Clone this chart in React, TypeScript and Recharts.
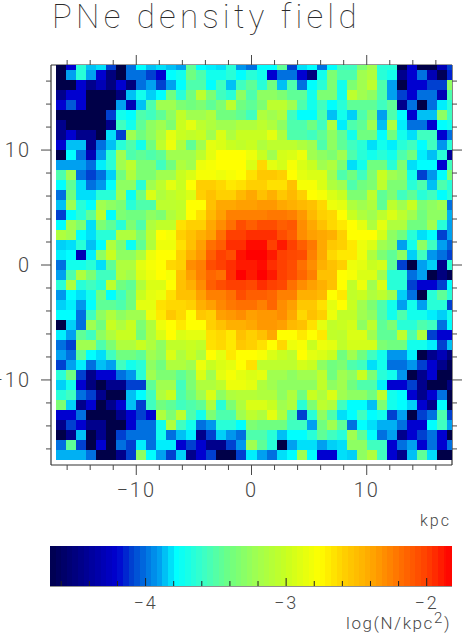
import React from "react";
import { ScatterChart, Scatter, XAxis, YAxis } from "recharts";

// log(N/kpc^2) per map cell, top row first, left column first
const ROW_00 = [-4.7,-4.2,-3.65,-3.86,-3.82,-4.1,-4.7,-4.0,-3.78,-3.86,-3.82,-3.86,-3.9,-3.46,-3.78,-3.8,-3.82,-3.65,-3.92,-4.0,-3.78,-3.78,-3.46,-4.1,-3.82,-3.78,-4.0,-3.78,-3.57,-3.57,-3.35,-3.21,-3.65,-3.65,-4.7,-4.2,-4.7,-4.7,-4.3,-4.1];
const ROW_01 = [-4.7,-3.9,-3.65,-3.9,-4.2,-4.5,-4.7,-4.0,-4.0,-4.1,-4.2,-3.78,-3.72,-3.4,-3.52,-3.72,-3.72,-3.65,-3.78,-3.65,-3.72,-4.2,-4.0,-4.0,-4.2,-4.5,-3.72,-3.35,-3.52,-3.52,-3.21,-3.13,-3.65,-3.72,-4.45,-4.2,-4.0,-4.3,-4.65,-4.15];
const ROW_02 = [-4.7,-4.7,-4.2,-4.45,-4.3,-4.5,-4.2,-4.5,-4.0,-3.9,-4.1,-3.9,-3.78,-3.52,-3.52,-3.78,-3.57,-3.86,-3.57,-3.46,-3.65,-3.4,-3.86,-3.52,-4.0,-3.78,-3.65,-3.35,-3.72,-3.35,-3.21,-3.06,-3.52,-3.9,-4.7,-4.2,-4.2,-4.1,-4.1,-3.28];
const ROW_03 = [-4.45,-4.2,-4.2,-4.7,-4.7,-4.7,-4.5,-3.86,-3.72,-3.84,-3.78,-3.4,-3.65,-3.4,-3.06,-3.35,-3.57,-3.65,-3.28,-3.52,-3.28,-3.28,-3.35,-3.46,-3.46,-3.72,-3.35,-3.35,-3.72,-3.06,-3.21,-3.28,-3.52,-3.9,-4.1,-4.2,-4.0,-4.0,-4.3,-3.52];
const ROW_04 = [-4.2,-4.05,-4.2,-4.7,-4.7,-4.7,-3.9,-4.3,-3.86,-3.52,-3.21,-3.21,-3.35,-3.4,-3.35,-3.46,-3.35,-3.06,-3.4,-3.46,-3.35,-3.06,-3.06,-3.21,-3.52,-3.72,-3.57,-3.78,-3.65,-3.46,-3.46,-3.46,-3.57,-3.46,-4.45,-4.0,-4.7,-4.0,-3.8,-3.65];
const ROW_05 = [-4.7,-4.7,-4.7,-4.7,-4.7,-4.1,-3.72,-3.78,-3.52,-3.57,-3.46,-3.28,-3.04,-3.21,-3.21,-3.13,-3.4,-3.4,-3.46,-3.57,-3.13,-3.21,-3.13,-3.57,-3.78,-3.78,-3.52,-3.86,-3.72,-3.84,-3.52,-3.35,-3.9,-3.52,-3.78,-4.2,-3.86,-3.86,-3.28,-3.57];
const ROW_06 = [-4.45,-4.7,-4.7,-4.7,-4.7,-4.45,-3.57,-3.72,-3.46,-3.28,-3.21,-3.35,-3.0,-2.88,-3.06,-3.13,-3.21,-3.21,-3.13,-3.13,-3.06,-3.13,-3.28,-3.52,-3.52,-3.4,-3.57,-3.13,-3.8,-3.52,-3.46,-3.21,-3.86,-3.13,-3.8,-4.0,-4.0,-4.2,-3.78,-3.72];
const ROW_07 = [-4.45,-4.2,-4.45,-4.45,-4.7,-3.82,-4.1,-3.21,-3.4,-3.28,-3.13,-2.88,-3.0,-3.04,-3.0,-3.21,-2.92,-3.13,-3.0,-3.0,-3.0,-2.88,-3.13,-3.52,-3.52,-3.57,-3.46,-3.28,-3.46,-3.72,-3.4,-3.4,-3.78,-3.4,-3.72,-3.82,-3.57,-3.57,-4.2,-4.0];
const ROW_08 = [-4.2,-3.86,-3.86,-4.45,-4.0,-3.86,-3.65,-3.52,-3.72,-3.4,-3.06,-2.84,-3.13,-3.46,-3.21,-2.88,-2.92,-3.0,-3.04,-3.0,-3.13,-3.06,-3.06,-3.06,-3.13,-3.21,-3.52,-3.28,-3.46,-3.57,-3.65,-3.82,-3.72,-3.8,-3.65,-3.57,-3.78,-3.57,-3.92,-3.65];
const ROW_09 = [-4.7,-3.78,-4.0,-4.3,-3.92,-3.65,-3.21,-3.52,-3.46,-3.52,-3.46,-3.21,-3.21,-3.21,-3.06,-2.88,-2.76,-2.76,-2.76,-2.84,-3.0,-3.21,-2.95,-2.92,-2.84,-3.21,-3.28,-3.35,-3.21,-3.52,-3.65,-3.72,-3.65,-3.72,-3.52,-3.4,-3.8,-3.86,-3.65,-4.4];
const ROW_10 = [-3.9,-3.9,-3.9,-4.0,-3.8,-3.65,-3.21,-3.06,-3.35,-3.35,-3.57,-3.4,-3.13,-3.21,-2.84,-2.8,-2.76,-2.76,-2.76,-2.92,-2.62,-2.88,-2.95,-2.8,-2.92,-3.0,-3.21,-3.13,-3.35,-3.82,-3.72,-3.4,-3.4,-3.65,-3.35,-3.82,-3.78,-3.78,-4.2,-3.57];
const ROW_11 = [-3.52,-3.21,-4.0,-4.1,-4.0,-3.84,-3.4,-3.13,-3.35,-3.35,-3.21,-3.21,-3.0,-2.92,-2.8,-2.8,-2.84,-2.8,-2.76,-2.65,-2.55,-2.55,-2.59,-2.76,-2.88,-2.92,-2.92,-3.21,-3.52,-3.4,-3.57,-3.35,-3.0,-3.21,-3.28,-3.72,-4.1,-3.92,-3.78,-3.35];
const ROW_12 = [-3.78,-3.46,-3.82,-4.0,-3.92,-3.78,-3.28,-3.28,-3.65,-3.21,-3.06,-2.88,-3.0,-2.76,-2.58,-2.58,-2.62,-2.68,-2.65,-2.59,-2.59,-2.65,-2.65,-2.52,-2.8,-2.8,-2.92,-3.13,-3.21,-3.52,-3.4,-3.35,-3.06,-3.35,-3.35,-3.65,-3.52,-3.86,-3.52,-3.65];
const ROW_13 = [-4.0,-3.4,-3.82,-3.82,-3.65,-3.65,-3.21,-3.75,-3.4,-2.92,-3.13,-3.06,-3.0,-2.92,-2.59,-2.52,-2.59,-2.59,-2.48,-2.4,-2.52,-2.44,-2.55,-2.48,-2.59,-2.76,-2.8,-2.92,-3.0,-3.35,-3.35,-3.06,-3.46,-3.35,-3.57,-3.46,-3.65,-3.57,-3.78,-3.65];
const ROW_14 = [-3.86,-3.21,-3.65,-3.78,-3.21,-3.28,-3.35,-3.65,-3.52,-3.52,-3.06,-3.06,-3.04,-2.76,-2.76,-2.52,-2.4,-2.4,-2.37,-2.37,-2.34,-2.34,-2.4,-2.44,-2.48,-2.52,-2.62,-2.84,-2.88,-3.13,-3.21,-3.13,-3.46,-3.06,-3.21,-3.0,-3.35,-3.28,-3.21,-4.0];
const ROW_15 = [-4.1,-3.78,-3.65,-3.46,-3.06,-3.78,-3.35,-3.4,-3.4,-3.28,-3.35,-3.13,-3.04,-2.76,-2.65,-2.48,-2.37,-2.25,-2.25,-2.25,-2.25,-2.22,-2.22,-2.25,-2.34,-2.48,-2.59,-2.62,-2.76,-3.0,-3.13,-3.21,-3.06,-2.92,-3.06,-3.21,-3.4,-3.28,-3.28,-3.88];
const ROW_16 = [-3.78,-3.21,-3.35,-3.82,-3.35,-3.46,-3.65,-3.35,-3.52,-3.13,-3.04,-3.04,-2.65,-2.59,-2.59,-2.4,-2.3,-2.19,-2.05,-2.12,-2.05,-2.05,-2.12,-2.09,-2.3,-2.4,-2.52,-2.62,-2.68,-2.76,-2.88,-3.13,-2.88,-3.13,-3.13,-3.4,-3.4,-3.21,-3.65,-3.9];
const ROW_17 = [-3.13,-3.21,-3.78,-3.82,-3.65,-3.65,-3.13,-3.13,-3.35,-3.06,-2.76,-2.8,-2.59,-2.52,-2.44,-2.37,-2.19,-2.0,-2.0,-1.95,-1.95,-1.95,-2.05,-2.12,-2.3,-2.37,-2.4,-2.44,-2.59,-2.76,-2.76,-2.76,-2.95,-3.28,-3.4,-3.65,-3.82,-3.78,-4.1,-3.9];
const ROW_18 = [-3.84,-3.82,-3.65,-3.86,-3.78,-3.13,-3.35,-3.75,-3.46,-3.13,-2.84,-2.84,-2.65,-2.52,-2.37,-2.19,-2.12,-1.95,-1.95,-1.85,-1.85,-2.0,-1.89,-2.0,-2.12,-2.22,-2.4,-2.55,-2.59,-2.68,-2.84,-2.92,-3.21,-3.28,-3.9,-3.72,-3.28,-3.57,-3.9,-4.03];
const ROW_19 = [-3.8,-3.78,-4.3,-3.8,-3.28,-3.0,-3.28,-3.28,-3.13,-2.84,-2.76,-2.76,-2.59,-2.44,-2.34,-2.12,-2.0,-2.05,-1.87,-1.82,-1.82,-1.89,-2.0,-2.03,-2.05,-2.25,-2.4,-2.62,-2.68,-2.68,-2.84,-3.13,-3.35,-3.46,-3.28,-3.84,-3.57,-3.92,-4.0,-4.1];
const ROW_20 = [-4.0,-3.72,-3.72,-3.65,-3.82,-3.46,-3.13,-3.13,-2.88,-2.8,-2.76,-2.62,-2.59,-2.3,-2.25,-2.05,-2.0,-1.95,-1.89,-1.89,-1.85,-1.95,-2.0,-2.05,-2.19,-2.3,-2.44,-2.52,-2.59,-2.84,-2.88,-3.0,-2.95,-3.46,-4.1,-4.7,-3.9,-3.84,-4.45,-3.65];
const ROW_21 = [-3.9,-3.52,-3.13,-3.35,-3.57,-3.57,-3.13,-3.21,-2.92,-2.84,-2.76,-2.8,-2.52,-2.37,-2.25,-2.15,-2.19,-1.95,-1.82,-1.89,-1.82,-1.89,-2.0,-2.05,-2.15,-2.25,-2.52,-2.52,-2.76,-2.8,-2.92,-2.92,-3.21,-3.65,-3.65,-4.0,-3.9,-4.7,-4.5,-4.65];
const ROW_22 = [-3.65,-3.13,-3.65,-3.57,-3.65,-3.06,-3.4,-3.46,-3.13,-2.92,-2.92,-2.76,-2.52,-2.44,-2.3,-2.12,-2.05,-2.0,-2.0,-2.03,-1.95,-2.0,-2.03,-2.19,-2.3,-2.37,-2.44,-2.52,-2.76,-3.04,-2.84,-3.21,-2.92,-3.65,-3.65,-4.1,-4.2,-4.2,-4.1,-3.78];
const ROW_23 = [-3.92,-3.78,-3.82,-3.72,-3.4,-3.78,-3.57,-3.4,-3.0,-2.88,-2.84,-2.65,-2.52,-2.52,-2.37,-2.25,-2.25,-2.19,-2.05,-2.12,-2.12,-2.15,-2.25,-2.25,-2.44,-2.44,-2.48,-2.76,-2.68,-3.04,-3.0,-3.13,-3.06,-3.21,-3.84,-4.0,-4.7,-3.65,-3.46,-3.65];
const ROW_24 = [-3.84,-3.8,-3.92,-3.78,-3.46,-3.46,-3.52,-3.4,-2.88,-2.88,-2.65,-2.62,-2.62,-2.59,-2.44,-2.37,-2.28,-2.22,-2.19,-2.19,-2.25,-2.15,-2.3,-2.37,-2.55,-2.55,-2.65,-2.88,-2.76,-3.0,-3.21,-3.35,-3.52,-3.72,-3.9,-3.72,-3.9,-3.65,-3.65,-4.1];
const ROW_25 = [-3.78,-3.78,-4.0,-3.57,-3.28,-3.13,-3.28,-3.21,-3.21,-2.84,-2.68,-2.55,-2.62,-2.76,-2.55,-2.59,-2.37,-2.34,-2.3,-2.37,-2.34,-2.34,-2.3,-2.4,-2.62,-2.52,-2.59,-2.84,-3.04,-3.04,-3.21,-3.28,-3.52,-3.72,-3.52,-3.72,-3.72,-3.8,-3.84,-3.72];
const ROW_26 = [-4.7,-3.84,-4.0,-3.21,-3.4,-3.0,-3.13,-3.0,-3.35,-3.13,-2.84,-2.76,-2.68,-2.76,-2.76,-2.59,-2.52,-2.44,-2.44,-2.4,-2.34,-2.34,-2.37,-2.48,-2.52,-2.65,-2.88,-3.04,-3.0,-2.95,-3.28,-3.06,-3.46,-3.35,-3.65,-3.65,-3.52,-3.57,-4.0,-3.78];
const ROW_27 = [-3.8,-3.9,-3.46,-3.57,-3.28,-3.13,-3.0,-3.0,-3.4,-3.13,-2.92,-2.76,-2.92,-2.88,-2.88,-2.65,-2.62,-2.68,-2.52,-2.59,-2.52,-2.4,-2.76,-2.76,-2.68,-2.76,-2.68,-3.04,-3.06,-2.92,-2.92,-3.21,-3.46,-3.46,-3.06,-3.52,-3.13,-4.1,-4.2,-4.2];
const ROW_28 = [-4.0,-4.1,-3.21,-3.21,-3.52,-3.35,-3.13,-3.13,-3.0,-3.13,-3.28,-3.04,-3.04,-3.0,-3.04,-2.65,-2.62,-2.68,-2.55,-2.59,-2.65,-2.76,-2.62,-2.84,-2.8,-3.0,-2.84,-2.88,-3.04,-2.95,-2.95,-2.95,-3.35,-3.4,-3.4,-3.72,-3.72,-3.8,-4.1,-3.86];
const ROW_29 = [-3.9,-4.0,-3.46,-3.78,-3.82,-3.57,-3.4,-3.4,-3.46,-3.21,-3.28,-2.92,-3.13,-3.0,-3.13,-2.76,-2.88,-2.68,-2.76,-2.76,-2.8,-2.92,-3.0,-3.06,-2.76,-2.88,-2.92,-3.0,-3.4,-3.21,-3.4,-3.57,-3.72,-3.92,-3.92,-3.8,-4.7,-4.45,-4.3,-4.5];
const ROW_30 = [-4.1,-3.9,-3.8,-4.0,-3.86,-3.9,-3.57,-3.72,-3.65,-3.28,-3.4,-3.13,-3.13,-3.21,-2.84,-3.0,-2.92,-2.88,-2.76,-2.65,-3.06,-3.06,-3.06,-3.06,-2.95,-3.0,-3.28,-3.4,-3.35,-3.52,-3.57,-3.82,-3.72,-4.0,-4.0,-3.92,-4.1,-4.2,-4.45,-4.65];
const ROW_31 = [-3.65,-3.4,-4.1,-4.45,-4.2,-4.2,-4.0,-3.92,-3.65,-3.21,-3.35,-3.35,-3.46,-3.35,-2.92,-3.21,-2.88,-2.8,-2.88,-2.92,-2.88,-3.21,-3.21,-3.28,-3.21,-3.21,-3.06,-3.4,-3.21,-3.28,-3.0,-3.35,-3.65,-3.72,-3.92,-4.7,-4.45,-4.2,-4.7,-4.7];
const ROW_32 = [-3.84,-3.72,-4.2,-4.5,-4.7,-4.45,-4.45,-4.1,-4.1,-3.46,-3.21,-3.21,-3.57,-3.35,-3.13,-3.13,-3.06,-2.84,-2.84,-2.88,-3.13,-3.21,-3.28,-3.28,-3.28,-3.28,-3.04,-3.28,-3.21,-3.4,-3.52,-3.52,-3.8,-4.2,-4.2,-4.1,-4.45,-4.7,-4.7,-4.5];
const ROW_33 = [-3.65,-3.57,-4.0,-4.1,-4.45,-4.7,-4.7,-3.86,-3.78,-3.57,-3.13,-3.0,-3.52,-3.4,-3.21,-2.92,-3.28,-3.13,-3.1,-3.1,-3.13,-3.13,-3.28,-3.13,-3.4,-3.0,-3.13,-2.92,-3.21,-3.28,-3.28,-3.4,-3.06,-3.72,-3.78,-4.2,-4.45,-4.2,-4.0,-4.7];
const ROW_34 = [-3.35,-3.84,-4.45,-4.2,-4.7,-4.45,-4.2,-3.86,-4.1,-3.57,-3.4,-3.46,-3.57,-3.52,-3.46,-3.13,-3.65,-3.35,-3.13,-2.92,-2.92,-3.0,-3.21,-3.13,-3.65,-3.35,-3.06,-3.13,-3.57,-3.78,-3.78,-3.86,-3.35,-3.72,-3.78,-3.84,-4.2,-4.45,-3.78,-4.7];
const ROW_35 = [-4.2,-4.2,-4.0,-4.7,-4.7,-4.7,-4.45,-4.2,-4.1,-4.2,-3.13,-3.35,-3.06,-3.52,-3.72,-3.35,-3.52,-3.52,-3.21,-3.06,-3.13,-2.88,-3.13,-3.52,-4.1,-3.65,-3.28,-3.52,-3.82,-3.78,-3.57,-3.78,-3.72,-4.1,-3.9,-4.7,-4.1,-4.0,-3.52,-4.1];
const ROW_36 = [-4.45,-4.1,-4.2,-4.45,-4.45,-4.7,-4.7,-4.2,-4.0,-4.0,-3.72,-3.13,-3.57,-3.72,-4.0,-3.92,-3.65,-3.65,-3.78,-3.35,-3.4,-3.4,-3.4,-3.57,-3.57,-3.9,-3.4,-3.21,-3.46,-4.0,-3.78,-3.82,-3.88,-3.88,-4.0,-4.2,-4.2,-3.78,-3.57,-3.9];
const ROW_37 = [-4.7,-4.45,-3.86,-4.7,-4.45,-4.7,-4.1,-4.0,-4.0,-4.0,-3.72,-4.0,-3.86,-3.8,-4.45,-4.1,-3.84,-3.92,-4.0,-3.52,-3.52,-3.65,-3.86,-3.78,-3.78,-3.65,-3.46,-3.57,-3.65,-3.21,-3.46,-3.78,-4.0,-3.9,-4.45,-4.2,-4.1,-4.0,-4.2,-4.7];
const ROW_38 = [-4.0,-3.46,-4.1,-4.7,-4.2,-4.7,-4.0,-4.1,-3.8,-4.0,-3.8,-3.8,-4.2,-4.1,-4.2,-4.45,-4.45,-4.1,-3.92,-3.21,-3.46,-3.65,-4.7,-3.9,-3.82,-3.82,-3.9,-3.84,-3.82,-3.28,-3.28,-3.57,-3.57,-4.2,-4.0,-3.9,-4.2,-4.0,-4.2,-4.0];
const ROW_39 = [-3.88,-3.88,-3.88,-4.0,-4.7,-4.7,-4.45,-4.1,-3.28,-3.78,-3.9,-4.1,-3.84,-4.45,-4.2,-4.1,-4.7,-4.7,-4.1,-3.8,-3.9,-4.0,-3.82,-3.78,-3.21,-3.78,-4.2,-4.2,-3.82,-3.84,-3.28,-3.13,-3.57,-4.2,-4.45,-3.86,-3.46,-3.82,-4.7,-4.7];

const ROWS = [
  ROW_00, ROW_01, ROW_02, ROW_03, ROW_04, ROW_05, ROW_06, ROW_07, ROW_08, ROW_09,
  ROW_10, ROW_11, ROW_12, ROW_13, ROW_14, ROW_15, ROW_16, ROW_17, ROW_18, ROW_19,
  ROW_20, ROW_21, ROW_22, ROW_23, ROW_24, ROW_25, ROW_26, ROW_27, ROW_28, ROW_29,
  ROW_30, ROW_31, ROW_32, ROW_33, ROW_34, ROW_35, ROW_36, ROW_37, ROW_38, ROW_39,
];

const MAP_TICKS = [-16, -14, -12, -10, -8, -6, -4, -2, 0, 2, 4, 6, 8, 10, 12, 14, 16];
const MAP_LABELS = [-10, 0, 10];
const BAR_TICKS = [-4.6, -4.4, -4.2, -4, -3.8, -3.6, -3.4, -3.2, -3, -2.8, -2.6, -2.4, -2.2, -2];
const BAR_LABELS = [-4, -3, -2];
const BAR_LEVELS = [
  -4.66, -4.62, -4.58, -4.54, -4.5, -4.46, -4.42, -4.38, -4.34, -4.3, -4.26, -4.22, -4.18, -4.14, -4.1, -4.06,
  -4.02, -3.98, -3.94, -3.9, -3.86, -3.82, -3.78, -3.74, -3.7, -3.66, -3.62, -3.58, -3.54, -3.5, -3.46, -3.42,
  -3.38, -3.34, -3.3, -3.26, -3.22, -3.18, -3.14, -3.1, -3.06, -3.02, -2.98, -2.94, -2.9, -2.86, -2.82, -2.78,
  -2.74, -2.7, -2.66, -2.62, -2.58, -2.54, -2.5, -2.46, -2.42, -2.38, -2.34, -2.3, -2.26, -2.22, -2.18, -2.14,
  -2.1, -2.06, -2.02, -1.98, -1.94, -1.9, -1.86, -1.84,
];

const STOP_VALUES = [-4.7, -4.2, -4.1, -4.0, -3.9, -3.78, -3.57, -3.4, -3.21, -3.0, -2.76, -2.59, -2.4, -2.19, -2.0, -1.82];
const STOP_COLORS = ["#000048", "#0000d0", "#0040d0", "#0070e0", "#00a0f0", "#00ffff", "#40ffc0", "#70ff80", "#a0ff50", "#c8ff20", "#ffff00", "#ffd000", "#ffa800", "#ff7000", "#ff4000", "#ff0000"];

const EXTENT = 17.4; // kpc, half width of the frame
const CELL = 0.87; // kpc
const PX_X = 401 / (2 * EXTENT);
const PX_Y = 400 / (2 * EXTENT);
const BAR_MIN = -4.68;
const BAR_MAX = -1.82;
const BAR_STEP = 0.04;
const PX_BAR = 402 / (BAR_MAX - BAR_MIN);

const INK = "#484848";
const FONT = "Roboto, sans-serif";

function hexToRgb(hex: string) {
  return [1, 3, 5].map((i) => parseInt(hex.slice(i, i + 2), 16));
}

function valueColor(v: number): string {
  if (v <= STOP_VALUES[0]) return STOP_COLORS[0];
  for (let i = 1; i < STOP_VALUES.length; i++) {
    if (v <= STOP_VALUES[i]) {
      const t = (v - STOP_VALUES[i - 1]) / (STOP_VALUES[i] - STOP_VALUES[i - 1]);
      const a = hexToRgb(STOP_COLORS[i - 1]);
      const b = hexToRgb(STOP_COLORS[i]);
      const c = a.map((ch, k) => Math.round(ch + (b[k] - ch) * t));
      return `rgb(${c[0]},${c[1]},${c[2]})`;
    }
  }
  return STOP_COLORS[STOP_COLORS.length - 1];
}

// cells sit half a cell off the frame, so the top row and right column are cut in half
const cells = ROWS.flatMap((row, r) =>
  row.map((value, c) => {
    const x0 = -EXTENT + CELL * (c + 0.5);
    const x1 = Math.min(EXTENT, x0 + CELL);
    const y1 = Math.min(EXTENT, EXTENT - CELL * (r - 0.5));
    const y0 = EXTENT - CELL * (r + 0.5);
    return { x: (x0 + x1) / 2, y: (y0 + y1) / 2, w: x1 - x0, h: y1 - y0, value };
  })
);

const barCells = BAR_LEVELS.map((value) => ({ x: value, y: 0.5, value }));

function CellShape(props: any) {
  const { cx, cy, payload } = props;
  const w = payload.w * PX_X;
  const h = payload.h * PX_Y;
  return (
    <rect
      x={cx - w / 2}
      y={cy - h / 2}
      width={w}
      height={h}
      fill={valueColor(payload.value)}
      shapeRendering="crispEdges"
    />
  );
}

function BarCellShape(props: any) {
  const { cx, payload } = props;
  const w = BAR_STEP * PX_BAR;
  return (
    <rect
      x={cx - w / 2}
      y={16}
      width={w + 0.5}
      height={40}
      fill={valueColor(payload.value)}
      shapeRendering="crispEdges"
    />
  );
}

const minus = (v: number) => (v < 0 ? `\u2212${-v}` : `${v}`);

function tickLen(v: number, labels: number[], minor: number, major: number) {
  return labels.includes(v) ? major : minor;
}

function TickText({ x, y, size, anchor, children }: any) {
  return (
    <text x={x} y={y} textAnchor={anchor} fontSize={size} letterSpacing={2} fontWeight={300} fontFamily={FONT} fill={INK}>
      {children}
    </text>
  );
}

function BottomTick({ x, y, payload }: any) {
  const v = payload.value;
  return (
    <g>
      <line x1={x} x2={x} y1={y} y2={y + tickLen(v, MAP_LABELS, 5, 10)} stroke={INK} />
      {MAP_LABELS.includes(v) && (
        <TickText x={x} y={y + 32} size={20} anchor="middle">{minus(v)}</TickText>
      )}
    </g>
  );
}

function TopTick({ x, y, payload }: any) {
  return <line x1={x} x2={x} y1={y} y2={y - tickLen(payload.value, MAP_LABELS, 5, 10)} stroke={INK} />;
}

function LeftTick({ x, y, payload }: any) {
  const v = payload.value;
  return (
    <g>
      <line x1={x} x2={x - tickLen(v, MAP_LABELS, 5, 10)} y1={y} y2={y} stroke={INK} />
      {MAP_LABELS.includes(v) && (
        <TickText x={x - 20} y={y + 7} size={20} anchor="end">{minus(v)}</TickText>
      )}
    </g>
  );
}

function RightTick({ x, y, payload }: any) {
  return <line x1={x} x2={x + tickLen(payload.value, MAP_LABELS, 5, 10)} y1={y} y2={y} stroke={INK} />;
}

function BarBottomTick({ x, y, payload }: any) {
  const v = payload.value;
  const major = BAR_LABELS.includes(v);
  return (
    <g>
      <line x1={x} x2={x} y1={y} y2={y - (major ? 8 : 5)} stroke="#222" />
      {major && (
        <TickText x={x} y={y + 23} size={18} anchor="middle">{minus(v)}</TickText>
      )}
    </g>
  );
}

function BarTopTick({ x, y, payload }: any) {
  const major = BAR_LABELS.includes(payload.value);
  return <line x1={x} x2={x} y1={y} y2={y + (major ? 8 : 5)} stroke="#222" />;
}

function HeatMap() {
  const axisLine = { stroke: "#333", strokeWidth: 1.2 };
  return (
    <ScatterChart width={463} height={510} margin={{ top: 50, right: 0, bottom: 0, left: 0 }}>
      <XAxis xAxisId="b" type="number" dataKey="x" orientation="bottom" height={45} domain={[-EXTENT, EXTENT]} ticks={MAP_TICKS} interval={0} allowDataOverflow tickSize={0} tickMargin={0} axisLine={axisLine} tick={<BottomTick />} />
      <XAxis xAxisId="t" type="number" dataKey="x" orientation="top" height={15} domain={[-EXTENT, EXTENT]} ticks={MAP_TICKS} interval={0} allowDataOverflow tickSize={0} tickMargin={0} axisLine={axisLine} tick={<TopTick />} />
      <YAxis yAxisId="l" type="number" dataKey="y" orientation="left" width={51} domain={[-EXTENT, EXTENT]} ticks={MAP_TICKS} interval={0} allowDataOverflow tickSize={0} tickMargin={0} axisLine={axisLine} tick={<LeftTick />} />
      <YAxis yAxisId="r" type="number" dataKey="y" orientation="right" width={11} domain={[-EXTENT, EXTENT]} ticks={MAP_TICKS} interval={0} allowDataOverflow tickSize={0} tickMargin={0} axisLine={axisLine} tick={<RightTick />} />
      <Scatter xAxisId="b" yAxisId="l" data={cells} shape={<CellShape />} isAnimationActive={false} />
    </ScatterChart>
  );
}

function ColorBar() {
  const axisLine = { stroke: "#222", strokeWidth: 1 };
  return (
    <ScatterChart width={463} height={100} margin={{ top: 16, right: 11, bottom: 0, left: 50 }}>
      <XAxis xAxisId="b" type="number" dataKey="x" orientation="bottom" height={44} domain={[BAR_MIN, BAR_MAX]} ticks={BAR_TICKS} interval={0} allowDataOverflow tickSize={0} tickMargin={0} axisLine={axisLine} tick={<BarBottomTick />} />
      <XAxis xAxisId="t" type="number" dataKey="x" orientation="top" height={0} domain={[BAR_MIN, BAR_MAX]} ticks={BAR_TICKS} interval={0} allowDataOverflow tickSize={0} tickMargin={0} axisLine={axisLine} tick={<BarTopTick />} />
      <YAxis yAxisId="l" type="number" dataKey="y" hide domain={[0, 1]} />
      <Scatter xAxisId="b" yAxisId="l" data={barCells} shape={<BarCellShape />} isAnimationActive={false} />
    </ScatterChart>
  );
}

const textStyle: React.CSSProperties = {
  position: "absolute",
  fontFamily: FONT,
  fontWeight: 300,
  color: INK,
  whiteSpace: "nowrap",
  lineHeight: 1,
};

export default function App() {
  return (
    <div style={{ position: "absolute", left: 0, top: 0, width: 463, height: 633, background: "#fff", overflow: "hidden" }}>
      <div style={{ position: "absolute", left: 0, top: 0 }}>
        <HeatMap />
      </div>
      <div style={{ position: "absolute", left: 0, top: 530 }}>
        <ColorBar />
      </div>
      <div style={{ ...textStyle, left: 52, top: 0, fontSize: 33, fontWeight: 100, letterSpacing: 4.25, color: "#2a2a2a" }}>PNe density field</div>
      <div style={{ ...textStyle, left: 420, top: 513, fontSize: 16, letterSpacing: 2 }}>kpc</div>
      <div style={{ ...textStyle, left: 346, top: 615, fontSize: 17, letterSpacing: 1.6 }}>
        log(N/kpc<span style={{ fontSize: 15, position: "relative", top: -6 }}>2</span>)
      </div>
    </div>
  );
}
